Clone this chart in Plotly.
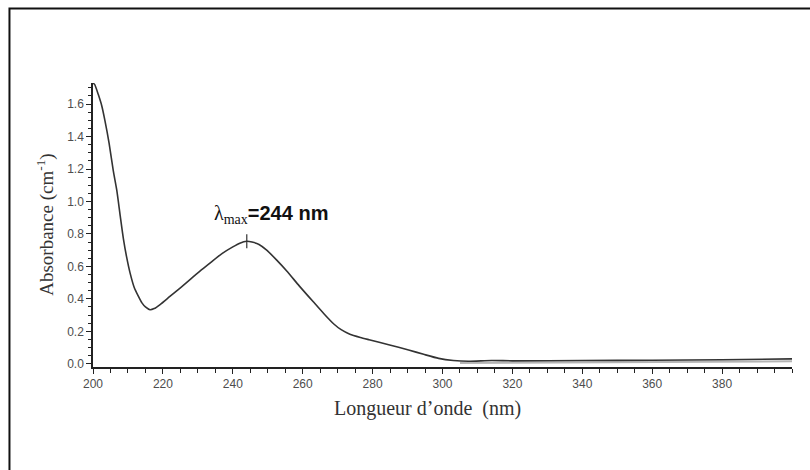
import plotly.graph_objects as go

# UV absorption spectrum
wavelength_nm = [200.0, 200.5, 201.5, 202.5, 203.4, 204.6, 205.8, 206.8, 207.8, 208.7,
                 209.6, 210.6, 211.8, 213.0, 214.0, 215.0, 216.3, 217.5, 219.2, 222.0,
                 225.0, 228.0, 231.0, 234.0, 237.0, 240.0, 242.0, 244.0, 245.5, 247.5,
                 249.7, 252.5, 255.5, 259.0, 263.1, 266.0, 268.9, 271.0, 273.5, 276.5,
                 279.0, 284.6, 290.3, 294.6, 298.9, 303.1, 307.4, 314.0, 320.0, 340.0,
                 360.0, 380.0, 400.0]
absorbance = [1.73, 1.72, 1.66, 1.59, 1.50, 1.36, 1.19, 1.07, 0.91, 0.77,
              0.66, 0.56, 0.47, 0.415, 0.375, 0.35, 0.333, 0.34, 0.365, 0.415,
              0.468, 0.523, 0.578, 0.63, 0.68, 0.72, 0.743, 0.755, 0.75, 0.735,
              0.70, 0.64, 0.57, 0.48, 0.38, 0.31, 0.245, 0.21, 0.182, 0.162,
              0.148, 0.117, 0.085, 0.058, 0.033, 0.02, 0.015, 0.02, 0.018, 0.02,
              0.022, 0.025, 0.03]

# baseline trace visible in the long-wavelength tail
baseline_nm = [305.0, 320.0, 340.0, 360.0, 380.0, 400.0]
baseline_abs = [0.005, 0.006, 0.008, 0.010, 0.012, 0.015]

lambda_max = 244
peak_abs = 0.755

x_ticks = [200, 220, 240, 260, 280, 300, 320, 340, 360, 380]
y_ticks = [0.0, 0.2, 0.4, 0.6, 0.8, 1.0, 1.2, 1.4, 1.6]

fig = go.Figure()
fig.add_trace(go.Scatter(x=baseline_nm, y=baseline_abs, mode="lines",
                         line=dict(color="#b5b5b5", width=2), hoverinfo="skip"))
fig.add_trace(go.Scatter(x=wavelength_nm, y=absorbance, mode="lines",
                         line=dict(color="#333333", width=1.6, shape="spline", smoothing=0.6)))
fig.add_trace(go.Scatter(x=[lambda_max], y=[peak_abs], mode="markers",
                         marker=dict(symbol="line-ns", size=10,
                                     line=dict(color="#333333", width=1.2))))

tick_font = dict(family="Liberation Sans, Arial, sans-serif", size=12, color="#4d4d4d")

fig.update_xaxes(range=[200, 400], tickvals=x_ticks, ticktext=[str(v) for v in x_ticks],
                 showline=True, linecolor="#222222", linewidth=1.5,
                 ticks="outside", ticklen=5, tickwidth=1.2, tickcolor="#222222",
                 minor=dict(dtick=5, tick0=200, ticks="outside", ticklen=4,
                            tickwidth=1, tickcolor="#222222"),
                 showgrid=False, zeroline=False, tickfont=tick_font)
fig.update_yaxes(range=[-0.02, 1.73], tickvals=y_ticks, ticktext=[f"{v:.1f}" for v in y_ticks],
                 showline=True, linecolor="#222222", linewidth=1.5,
                 ticks="outside", ticklen=5, tickwidth=1.2, tickcolor="#222222",
                 minor=dict(dtick=0.05, tick0=0, ticks="outside", ticklen=3,
                            tickwidth=1, tickcolor="#222222"),
                 showgrid=False, zeroline=False, tickfont=tick_font)

serif = "Liberation Serif, Times New Roman, serif"

fig.add_annotation(xref="paper", yref="paper", x=-0.069, y=0.5,
                   text="Absorbance (cm<sup>-1</sup>)", textangle=-90, showarrow=False,
                   font=dict(family=serif, size=19, color="#333333"),
                   xanchor="center", yanchor="middle")
fig.add_annotation(xref="x", yref="paper", x=295.7, y=0, yshift=-41,
                   text="Longueur d\u2019onde  (nm)", showarrow=False,
                   font=dict(family=serif, size=20, color="#333333"),
                   xanchor="center", yanchor="middle")
fig.add_annotation(xref="x", yref="y", x=lambda_max, y=peak_abs, yshift=27,
                   text=("<span style='font-family:Liberation Serif, serif;font-weight:normal'>\u03bb</span>"
                         "<sub><span style='font-family:Liberation Serif, serif;font-weight:normal'>max</span></sub>"
                         f"<b>={lambda_max} nm</b>"),
                   showarrow=False,
                   font=dict(family="Liberation Sans, Arial, sans-serif", size=20, color="#111111"),
                   xanchor="center", yanchor="middle", xshift=24)

# outer frame
fig.add_shape(type="rect", xref="paper", yref="paper",
              x0=-0.1195, x1=1.2, y0=-0.5, y1=1.2623,
              line=dict(color="#111111", width=2), fillcolor="rgba(0,0,0,0)", layer="below")

fig.update_layout(width=810, height=470, showlegend=False,
                  margin=dict(l=93, r=18, t=83, b=103),
                  paper_bgcolor="white", plot_bgcolor="white")

fig.write_html("out.html")
